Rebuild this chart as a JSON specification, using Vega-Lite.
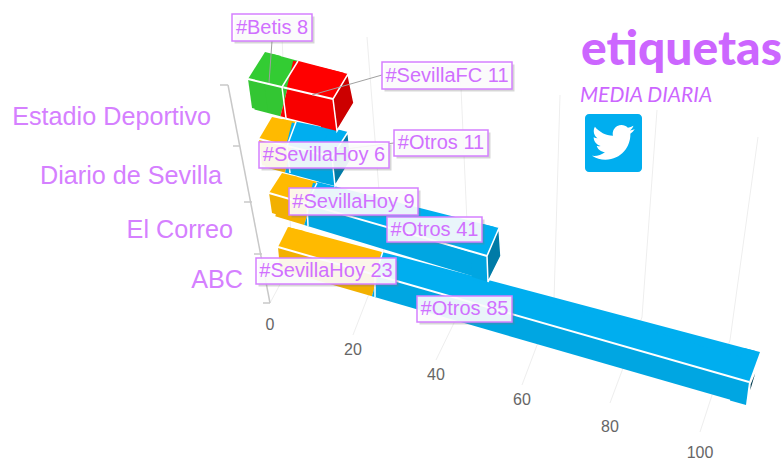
{"$schema":"https://vega.github.io/schema/vega-lite/v6.json","width":781,"height":461,"autosize":"none","padding":0,"background":"white","view":{"stroke":null},
"config":{"axis":{"disable":true},"legend":{"disable":true}},
"datasets":{"barras":[
{"id":6,"medio":"ABC","etiqueta":"#SevillaHoy","desde":0,"hasta":23,"rotulo":"#SevillaHoy 23"},
{"id":7,"medio":"ABC","etiqueta":"#Otros","desde":23,"hasta":108,"rotulo":"#Otros 85"},
{"id":4,"medio":"El Correo","etiqueta":"#SevillaHoy","desde":0,"hasta":9,"rotulo":"#SevillaHoy 9"},
{"id":5,"medio":"El Correo","etiqueta":"#Otros","desde":9,"hasta":50,"rotulo":"#Otros 41"},
{"id":2,"medio":"Diario de Sevilla","etiqueta":"#SevillaHoy","desde":0,"hasta":6,"rotulo":"#SevillaHoy 6"},
{"id":3,"medio":"Diario de Sevilla","etiqueta":"#Otros","desde":6,"hasta":17,"rotulo":"#Otros 11"},
{"id":0,"medio":"Estadio Deportivo","etiqueta":"#Betis","desde":0,"hasta":8,"rotulo":"#Betis 8"},
{"id":1,"medio":"Estadio Deportivo","etiqueta":"#SevillaFC","desde":8,"hasta":19,"rotulo":"#SevillaFC 11"}],
"medios":[{"indice":0,"medio":"ABC"},{"indice":1,"medio":"El Correo"},{"indice":2,"medio":"Diario de Sevilla"},{"indice":3,"medio":"Estadio Deportivo"}],
"marcas":[{"valor":0},{"valor":20},{"valor":40},{"valor":60},{"valor":80},{"valor":100}],
"eje":[{"a":0,"b":1},{"a":2,"b":3},{"a":4,"b":5},{"a":6,"b":7},{"a":8,"b":9},{"a":1,"b":9}],
"rejilla":[{"a":0,"b":1},{"a":1,"b":2},{"a":3,"b":4},{"a":4,"b":5},{"a":6,"b":7},{"a":7,"b":8},{"a":9,"b":10},{"a":10,"b":11},{"a":12,"b":13},{"a":13,"b":14},{"a":15,"b":16},{"a":16,"b":17}],
"guias":[{"a":0,"b":1},{"a":2,"b":3},{"a":4,"b":5}],
"icono":[{"icono":"twitter"}]},
"resolve":{"scale":{"x":"independent","y":"independent","color":"independent","shape":"independent","fill":"independent"}},
"layer":[
{"data":{"name":"rejilla"},"mark":{"type":"rule","color":"#EEEEEE","strokeWidth":1},"encoding":{"x":{"field":"a","type":"quantitative","scale":{"domain":[0,1,2,3,4,5,6,7,8,9,10,11,12,13,14,15,16,17],"range":[367,384,353,460,470,436,560,554,522,657,642,610,758,730,700,270,292,282]}},"x2":{"field":"b"},"y":{"field":"a","type":"quantitative","scale":{"domain":[0,1,2,3,4,5,6,7,8,9,10,11,12,13,14,15,16,17],"range":[37,255,335,65,290,360,95,300,385,110,317,403,137,340,432,303,262,37]}},"y2":{"field":"b"}}},
{"data":{"name":"eje"},"mark":{"type":"rule","color":"#C8C8C8","strokeWidth":1.5},"encoding":{"x":{"field":"a","type":"quantitative","scale":{"domain":[0,1,2,3,4,5,6,7,8,9],"range":[220,228,233,240,244,252,254,262,263,270]}},"x2":{"field":"b"},"y":{"field":"a","type":"quantitative","scale":{"domain":[0,1,2,3,4,5,6,7,8,9],"range":[85,85,146,146,202,202,254,254,303,303]}},"y2":{"field":"b"}}},
{"data":{"name":"medios"},"mark":{"type":"text","align":"right","baseline":"middle","font":"Liberation Sans","fontSize":25.2,"color":"#D580FF"},"encoding":{"text":{"field":"medio"},"x":{"field":"indice","type":"quantitative","scale":{"domain":[0,1,2,3],"range":[243,233,222,211]}},"y":{"field":"indice","type":"quantitative","scale":{"domain":[0,1,2,3],"range":[280,230,176,117]}}}},
{"data":{"name":"marcas"},"mark":{"type":"text","align":"center","baseline":"middle","font":"Liberation Sans","fontSize":16,"color":"#666666"},"encoding":{"text":{"field":"valor"},"x":{"field":"valor","type":"quantitative","scale":{"domain":[0,20,40,60,80,100],"range":[270,353,436,522,610,700]}},"y":{"field":"valor","type":"quantitative","scale":{"domain":[0,20,40,60,80,100],"range":[325,350,375,400,427,453]}}}},
{"data":{"name":"icono"},"mark":{"type":"text","text":"etiquetas","align":"left","baseline":"alphabetic","font":"Lato","fontSize":48,"fontWeight":900,"color":"#CC66FF"},"encoding":{"x":{"datum":0,"type":"quantitative","scale":{"domain":[0,1],"range":[581,582]}},"y":{"datum":0,"type":"quantitative","scale":{"domain":[0,1],"range":[65,66]}}}},
{"data":{"name":"icono"},"mark":{"type":"text","text":"MEDIA DIARIA","align":"left","baseline":"alphabetic","font":"Lato","fontSize":21,"fontStyle":"italic","color":"#CC66FF"},"encoding":{"x":{"datum":0,"type":"quantitative","scale":{"domain":[0,1],"range":[580,581]}},"y":{"datum":0,"type":"quantitative","scale":{"domain":[0,1],"range":[102,103]}}}},
{"data":{"name":"icono"},"mark":{"type":"rect","width":57,"height":58,"cornerRadius":4,"color":"#00AEEF"},"encoding":{"x":{"datum":0,"type":"quantitative","scale":{"domain":[0,1],"range":[613.5,614.5]}},"y":{"datum":0,"type":"quantitative","scale":{"domain":[0,1],"range":[143,144]}}}},
{"data":{"name":"icono"},"mark":{"type":"point","filled":true,"opacity":1,"size":12.67,"color":"white","shape":"M23.953 4.57a10 10 0 0 1 -2.825 .775 4.958 4.958 0 0 0 2.163 -2.723c-.951 .555 -2.005 .959 -3.127 1.184a4.92 4.92 0 0 0 -8.384 4.482C7.69 8.095 4.067 6.13 1.64 3.162a4.822 4.822 0 0 0 -.666 2.475c0 1.71 .87 3.213 2.188 4.096a4.904 4.904 0 0 1 -2.228 -.616v.06a4.923 4.923 0 0 0 3.946 4.827 4.996 4.996 0 0 1 -2.212 .085 4.936 4.936 0 0 0 4.604 3.417 9.867 9.867 0 0 1 -6.102 2.105c-.39 0 -.779 -.023 -1.17 -.067a13.995 13.995 0 0 0 7.557 2.209c9.053 0 13.998 -7.496 13.998 -13.985 0 -.21 0 -.42 -.015 -.63A9.935 9.935 0 0 0 24 4.59z"},"encoding":{"x":{"datum":0,"type":"quantitative","scale":{"domain":[0,1],"range":[592,593]}},"y":{"datum":0,"type":"quantitative","scale":{"domain":[0,1],"range":[121,122]}}}},

{"data":{"name":"barras"},"transform":[{"filter":"datum.medio=='ABC'"}],"mark":{"type":"rule","strokeWidth":22},"encoding":{"x":{"field":"desde","type":"quantitative","scale":{"domain":[0,23,108],"range":[287,375,739.5]}},"x2":{"field":"hasta"},"y":{"field":"desde","type":"quantitative","scale":{"domain":[0,23,108],"range":[260.3,285.8,391]}},"y2":{"field":"hasta"},"color":{"field":"etiqueta","type":"nominal","scale":{"domain":["#SevillaHoy","#Otros"],"range":["#F2B000","#00A6E2"]}}}},
{"data":{"name":"barras"},"transform":[{"filter":"datum.medio=='ABC'"}],"mark":{"type":"rule","strokeWidth":22},"encoding":{"x":{"field":"desde","type":"quantitative","scale":{"domain":[0,23,108],"range":[296,380,752]}},"x2":{"field":"hasta"},"y":{"field":"desde","type":"quantitative","scale":{"domain":[0,23,108],"range":[240.5,262.8,361.3]}},"y2":{"field":"hasta"},"color":{"field":"etiqueta","type":"nominal","scale":{"domain":["#SevillaHoy","#Otros"],"range":["#FFBA00","#00AEEF"]}}}},
{"data":{"name":"barras"},"transform":[{"filter":"datum.medio=='ABC'"}],"mark":{"type":"rule","strokeWidth":22},"encoding":{"x":{"field":"desde","type":"quantitative","scale":{"domain":[0,23,108],"range":[286,378,744]}},"x2":{"field":"hasta"},"y":{"field":"desde","type":"quantitative","scale":{"domain":[0,23,108],"range":[237.9,264.3,369.2]}},"y2":{"field":"hasta"},"color":{"field":"etiqueta","type":"nominal","scale":{"domain":["#SevillaHoy","#Otros"],"range":["#FFBA00","#00AEEF"]}}}},

{"data":{"name":"barras"},"transform":[{"filter":"datum.medio=='El Correo'"}],"mark":{"type":"rule","strokeWidth":22.5},"encoding":{"x":{"field":"desde","type":"quantitative","scale":{"domain":[0,9,50],"range":[278.5,307.5,479.5]}},"x2":{"field":"hasta"},"y":{"field":"desde","type":"quantitative","scale":{"domain":[0,9,50],"range":[205.4,214.2,266.6]}},"y2":{"field":"hasta"},"color":{"field":"etiqueta","type":"nominal","scale":{"domain":["#SevillaHoy","#Otros"],"range":["#F2B000","#00A6E2"]}}}},
{"data":{"name":"barras"},"transform":[{"filter":"datum.medio=='El Correo'"}],"mark":{"type":"rule","strokeWidth":22},"encoding":{"x":{"field":"desde","type":"quantitative","scale":{"domain":[0,9,50],"range":[290,314,491]}},"x2":{"field":"hasta"},"y":{"field":"desde","type":"quantitative","scale":{"domain":[0,9,50],"range":[186.4,192.5,237.4]}},"y2":{"field":"hasta"},"color":{"field":"etiqueta","type":"nominal","scale":{"domain":["#SevillaHoy","#Otros"],"range":["#FFBA00","#00AEEF"]}}}},
{"data":{"name":"barras"},"transform":[{"filter":"datum.medio=='El Correo'"}],"mark":{"type":"rule","strokeWidth":22},"encoding":{"x":{"field":"desde","type":"quantitative","scale":{"domain":[0,9,50],"range":[280,310,482]}},"x2":{"field":"hasta"},"y":{"field":"desde","type":"quantitative","scale":{"domain":[0,9,50],"range":[184.8,193.4,243.2]}},"y2":{"field":"hasta"},"color":{"field":"etiqueta","type":"nominal","scale":{"domain":["#SevillaHoy","#Otros"],"range":["#FFBA00","#00AEEF"]}}}},

{"data":{"name":"barras"},"transform":[{"filter":"datum.medio=='Diario de Sevilla'"}],"mark":{"type":"rule","strokeWidth":27},"encoding":{"x":{"field":"desde","type":"quantitative","scale":{"domain":[0,6,17],"range":[268.5,288.5,325.5]}},"x2":{"field":"hasta"},"y":{"field":"desde","type":"quantitative","scale":{"domain":[0,6,17],"range":[154.1,159.5,169.4]}},"y2":{"field":"hasta"},"color":{"field":"etiqueta","type":"nominal","scale":{"domain":["#SevillaHoy","#Otros"],"range":["#F2B000","#00A6E2"]}}}},
{"data":{"name":"barras"},"transform":[{"filter":"datum.medio=='Diario de Sevilla'"}],"mark":{"type":"rule","strokeWidth":24},"encoding":{"x":{"field":"desde","type":"quantitative","scale":{"domain":[0,6,17],"range":[280,294,340]}},"x2":{"field":"hasta"},"y":{"field":"desde","type":"quantitative","scale":{"domain":[0,6,17],"range":[130.9,133.6,142.7]}},"y2":{"field":"hasta"},"color":{"field":"etiqueta","type":"nominal","scale":{"domain":["#SevillaHoy","#Otros"],"range":["#FFBA00","#00AEEF"]}}}},
{"data":{"name":"barras"},"transform":[{"filter":"datum.medio=='Diario de Sevilla'"}],"mark":{"type":"rule","strokeWidth":24},"encoding":{"x":{"field":"desde","type":"quantitative","scale":{"domain":[0,6,17],"range":[270,289,327]}},"x2":{"field":"hasta"},"y":{"field":"desde","type":"quantitative","scale":{"domain":[0,6,17],"range":[129.4,134.1,143.5]}},"y2":{"field":"hasta"},"color":{"field":"etiqueta","type":"nominal","scale":{"domain":["#SevillaHoy","#Otros"],"range":["#FFBA00","#00AEEF"]}}}},

{"data":{"name":"barras"},"transform":[{"filter":"datum.medio=='Estadio Deportivo'"}],"mark":{"type":"rule","strokeWidth":29},"encoding":{"x":{"field":"desde","type":"quantitative","scale":{"domain":[0,8,19],"range":[258,284,327]}},"x2":{"field":"hasta"},"y":{"field":"desde","type":"quantitative","scale":{"domain":[0,8,19],"range":[95.5,102.1,113]}},"y2":{"field":"hasta"},"color":{"field":"etiqueta","type":"nominal","scale":{"domain":["#Betis","#SevillaFC"],"range":["#33C633","#F80000"]}}}},
{"data":{"name":"barras"},"transform":[{"filter":"datum.medio=='Estadio Deportivo'"}],"mark":{"type":"rule","strokeWidth":28},"encoding":{"x":{"field":"desde","type":"quantitative","scale":{"domain":[0,8,19],"range":[268,294,340]}},"x2":{"field":"hasta"},"y":{"field":"desde","type":"quantitative","scale":{"domain":[0,8,19],"range":[67.3,74.2,86.4]}},"y2":{"field":"hasta"},"color":{"field":"etiqueta","type":"nominal","scale":{"domain":["#Betis","#SevillaFC"],"range":["#33CC33","#FF0000"]}}}},
{"data":{"name":"barras"},"transform":[{"filter":"datum.medio=='Estadio Deportivo'"}],"mark":{"type":"rule","strokeWidth":28},"encoding":{"x":{"field":"desde","type":"quantitative","scale":{"domain":[0,8,19],"range":[262,290,330]}},"x2":{"field":"hasta"},"y":{"field":"desde","type":"quantitative","scale":{"domain":[0,8,19],"range":[67.8,74.4,83.8]}},"y2":{"field":"hasta"},"color":{"field":"etiqueta","type":"nominal","scale":{"domain":["#Betis","#SevillaFC"],"range":["#33CC33","#FF0000"]}}}},

{"data":{"name":"barras"},"mark":{"type":"point","filled":true,"opacity":1,"size":40000},"encoding":{"x":{"field":"id","type":"quantitative","scale":{"domain":[0,1,2,3,4,5,6,7],"range":[248,333,259,332,269,487,278,749]}},"y":{"field":"id","type":"quantitative","scale":{"domain":[0,1,2,3,4,5,6,7],"range":[79,99,139,157,193,256,247,382]}},"color":{"field":"rotulo","type":"nominal","scale":{"domain":["#Betis 8","#SevillaFC 11","#SevillaHoy 6","#Otros 11","#SevillaHoy 9","#Otros 41","#SevillaHoy 23","#Otros 85"],"range":["#33CC33","#FF0000","#FFBA00","#00AEEF","#FFBA00","#00AEEF","#FFBA00","#00AEEF"]}},"shape":{"field":"rotulo","type":"nominal","scale":{"domain":["#Betis 8","#SevillaFC 11","#SevillaHoy 6","#Otros 11","#SevillaHoy 9","#Otros 41","#SevillaHoy 23","#Otros 85"],"range":["M.17 -.27L.33 -.23L.16 .04L0 0Z","M.15 -.25L-.01 -.29L-.16 -.04L0 0Z","M.13 -.22L.29 -.185L.16 .035L0 0Z","M.16 -.25L0 -.29L-.16 -.04L0 0Z","M.13 -.20L.29 -.16L.16 .045L0 0Z","M.12 -.28L-.04 -.32L-.16 -.045L0 0Z","M.10 -.20L.26 -.16L.16 .045L0 0Z","M.11 -.30L-.05 -.34L-.16 -.045L0 0Z"]}}}},
{"data":{"name":"barras"},"mark":{"type":"point","filled":true,"opacity":1,"size":40000},"encoding":{"x":{"field":"id","type":"quantitative","scale":{"domain":[0,1,2,3,4,5,6,7],"range":[248,333,259,332,269,487,278,749]}},"y":{"field":"id","type":"quantitative","scale":{"domain":[0,1,2,3,4,5,6,7],"range":[79,99,139,157,193,256,247,382]}},"color":{"field":"rotulo","type":"nominal","scale":{"domain":["#Betis 8","#SevillaFC 11","#SevillaHoy 6","#Otros 11","#SevillaHoy 9","#Otros 41","#SevillaHoy 23","#Otros 85"],"range":["#33C633","#F80000","#F2B000","#00A6E2","#F2B000","#00A6E2","#F2B000","#00A6E2"]}},"shape":{"field":"rotulo","type":"nominal","scale":{"domain":["#Betis 8","#SevillaFC 11","#SevillaHoy 6","#Otros 11","#SevillaHoy 9","#Otros 41","#SevillaHoy 23","#Otros 85"],"range":["M0 0L.04 .29L.20 .33L.16 .04Z","M0 0L.04 .32L-.12 .28L-.16 -.04Z","M0 0L.03 .26L.19 .30L.16 .04Z","M0 0L.03 .29L-.13 .25L-.16 -.04Z","M0 0L.03 .20L.19 .25L.16 .045Z","M0 0L.01 .26L-.15 .21L-.16 -.045Z","M0 0L.02 .22L.18 .27L.16 .045Z","M0 0L-.03 .23L-.19 .185L-.16 -.045Z"]}}}},
{"data":{"name":"barras"},"transform":[{"filter":"datum.desde>0"}],"mark":{"type":"point","filled":true,"opacity":1,"size":40000,"stroke":"white","strokeWidth":1.5},"encoding":{"x":{"field":"id","type":"quantitative","scale":{"domain":[1,3,5,7],"range":[333,332,487,749]}},"y":{"field":"id","type":"quantitative","scale":{"domain":[1,3,5,7],"range":[99,157,256,382]}},"color":{"field":"rotulo","type":"nominal","scale":{"domain":["#SevillaFC 11","#Otros 11","#Otros 41","#Otros 85"],"range":["#CC0000","#007BA7","#007BA7","#003B50"]}},"shape":{"field":"rotulo","type":"nominal","scale":{"domain":["#SevillaFC 11","#Otros 11","#Otros 41","#Otros 85"],"range":["M.15 -.25L.21 .04L.04 .32L0 0Z","M.16 -.25L.19 .03L.03 .29L0 0Z","M.12 -.28L.14 0L.01 .26L0 0Z","M.11 -.22L0 .15L.01 .02Z"]}}}},
{"data":{"name":"barras"},"transform":[{"filter":"datum.desde>0"}],"mark":{"type":"point","filled":false,"opacity":1,"size":40000,"stroke":"white","strokeWidth":1.5},"encoding":{"x":{"field":"id","type":"quantitative","scale":{"domain":[1,3,5,7],"range":[282,287,307,375]}},"y":{"field":"id","type":"quantitative","scale":{"domain":[1,3,5,7],"range":[87,146,204,277]}},"shape":{"field":"rotulo","type":"nominal","scale":{"domain":["#SevillaFC 11","#Otros 11","#Otros 41","#Otros 85"],"range":["M.16 -.26L0 0L.04 .31","M.09 -.24L0 0L.03 .27","M.10 -.21L0 0L.01 .22","M.08 -.26L0 0L0 .20"]}}}},

{"data":{"name":"barras"},"transform":[{"filter":"datum.medio=='ABC'"}],"mark":{"type":"rule","color":"white","strokeWidth":2},"encoding":{"x":{"field":"desde","type":"quantitative","scale":{"domain":[0,108],"range":[278,749]}},"x2":{"field":"hasta"},"y":{"field":"desde","type":"quantitative","scale":{"domain":[0,108],"range":[247,382]}},"y2":{"field":"hasta"}}},
{"data":{"name":"barras"},"transform":[{"filter":"datum.medio=='El Correo'"}],"mark":{"type":"rule","color":"white","strokeWidth":2},"encoding":{"x":{"field":"desde","type":"quantitative","scale":{"domain":[0,50],"range":[269,487]}},"x2":{"field":"hasta"},"y":{"field":"desde","type":"quantitative","scale":{"domain":[0,50],"range":[193,256]}},"y2":{"field":"hasta"}}},
{"data":{"name":"barras"},"transform":[{"filter":"datum.medio=='Diario de Sevilla'"}],"mark":{"type":"rule","color":"white","strokeWidth":2},"encoding":{"x":{"field":"desde","type":"quantitative","scale":{"domain":[0,17],"range":[259,332]}},"x2":{"field":"hasta"},"y":{"field":"desde","type":"quantitative","scale":{"domain":[0,17],"range":[139,157]}},"y2":{"field":"hasta"}}},
{"data":{"name":"barras"},"transform":[{"filter":"datum.medio=='Estadio Deportivo'"}],"mark":{"type":"rule","color":"white","strokeWidth":2},"encoding":{"x":{"field":"desde","type":"quantitative","scale":{"domain":[0,19],"range":[248,333]}},"x2":{"field":"hasta"},"y":{"field":"desde","type":"quantitative","scale":{"domain":[0,19],"range":[79,99]}},"y2":{"field":"hasta"}}},

{"data":{"name":"guias"},"mark":{"type":"rule","color":"#A0A0A0","strokeWidth":1},"encoding":{"x":{"field":"a","type":"quantitative","scale":{"domain":[0,1,2,3,4,5],"range":[272,269,382,312,394,320]}},"x2":{"field":"b"},"y":{"field":"a","type":"quantitative","scale":{"domain":[0,1,2,3,4,5],"range":[41,83,75,95,143,152]}},"y2":{"field":"b"}}},

{"data":{"name":"barras"},"mark":{"type":"point","filled":true,"size":40000,"opacity":0.3,"color":"#777777","xOffset":2.5,"yOffset":2.5},"encoding":{"x":{"field":"id","type":"quantitative","scale":{"domain":[0,1,2,3,4,5,6,7],"range":[272,447,324,441,353.5,434.5,326,464.5]}},"y":{"field":"id","type":"quantitative","scale":{"domain":[0,1,2,3,4,5,6,7],"range":[27.5,75.5,155,143,201.5,229.5,271,309]}},"shape":{"field":"rotulo","type":"nominal","scale":{"domain":["#Betis 8","#SevillaFC 11","#SevillaHoy 6","#Otros 11","#SevillaHoy 9","#Otros 41","#SevillaHoy 23","#Otros 85"],"range":["M-.4 -.135H.4V.135H-.4Z","M-.65 -.135H.65V.135H-.65Z","M-.65 -.13H.65V.13H-.65Z","M-.47 -.13H.47V.13H-.47Z","M-.645 -.135H.645V.135H-.645Z","M-.475 -.125H.475V.125H-.475Z","M-.70 -.13H.70V.13H-.70Z","M-.475 -.13H.475V.13H-.475Z"]}}}},
{"data":{"name":"barras"},"mark":{"type":"point","filled":true,"size":40000,"opacity":1,"fill":"white","fillOpacity":0.9,"stroke":"#D580FF","strokeWidth":1.5},"encoding":{"x":{"field":"id","type":"quantitative","scale":{"domain":[0,1,2,3,4,5,6,7],"range":[272,447,324,441,353.5,434.5,326,464.5]}},"y":{"field":"id","type":"quantitative","scale":{"domain":[0,1,2,3,4,5,6,7],"range":[27.5,75.5,155,143,201.5,229.5,271,309]}},"shape":{"field":"rotulo","type":"nominal","scale":{"domain":["#Betis 8","#SevillaFC 11","#SevillaHoy 6","#Otros 11","#SevillaHoy 9","#Otros 41","#SevillaHoy 23","#Otros 85"],"range":["M-.4 -.135H.4V.135H-.4Z","M-.65 -.135H.65V.135H-.65Z","M-.65 -.13H.65V.13H-.65Z","M-.47 -.13H.47V.13H-.47Z","M-.645 -.135H.645V.135H-.645Z","M-.475 -.125H.475V.125H-.475Z","M-.70 -.13H.70V.13H-.70Z","M-.475 -.13H.475V.13H-.475Z"]}}}},
{"data":{"name":"barras"},"mark":{"type":"text","align":"center","baseline":"middle","font":"Liberation Sans","fontSize":20,"color":"#D070FF"},"encoding":{"text":{"field":"rotulo"},"x":{"field":"id","type":"quantitative","scale":{"domain":[0,1,2,3,4,5,6,7],"range":[272,447,324,441,353.5,434.5,326,464.5]}},"y":{"field":"id","type":"quantitative","scale":{"domain":[0,1,2,3,4,5,6,7],"range":[27.5,75.5,155,143,201.5,229.5,271,309]}}}}
]}
